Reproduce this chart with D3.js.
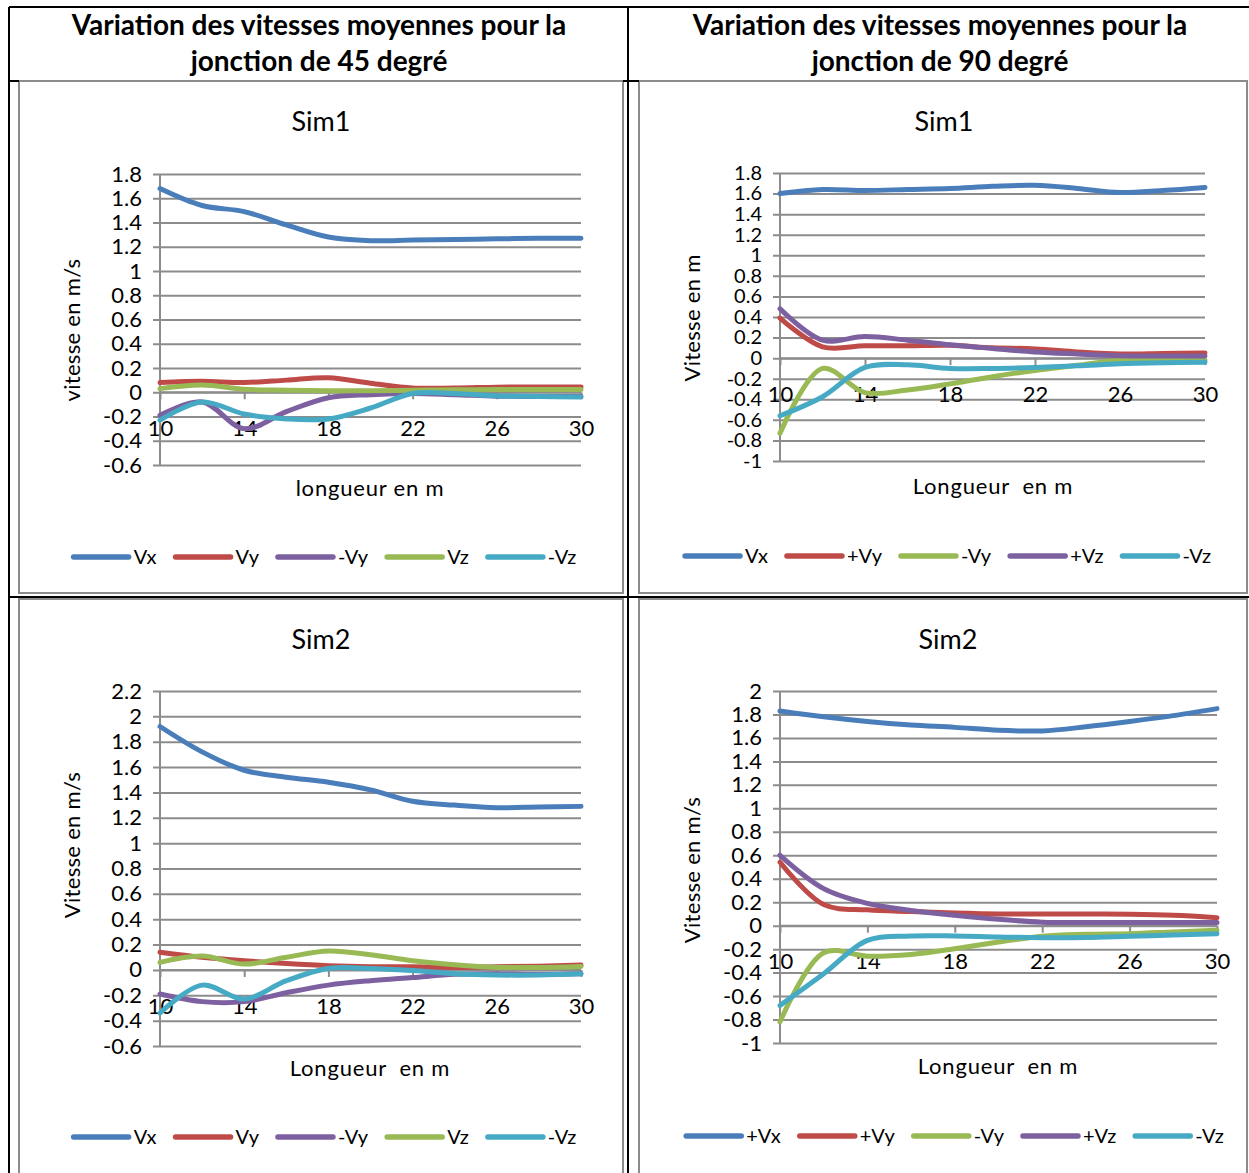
<!DOCTYPE html>
<head>
  <meta charset="utf-8">
  <script src="https://d3js.org/d3.v7.min.js"></script>
  <style>
  *{ margin:0; padding:0; }
  body{ background:#fff; font-family: Lato, 'Liberation Sans', sans-serif; }
  text{ fill:#000; }
  </style>
</head>
<body>
<svg id="viz" width="1249" height="1173"></svg>
<script>
// x categories (longueur en m) and axis labels
let xCats = [10, 12, 14, 16, 18, 20, 22, 24, 26, 28, 30];
let xTickLabels = [10, 14, 18, 22, 26, 30];

// jonction 45 degre, Sim1
let j45s1Vx  = [1.68, 1.54, 1.49, 1.38, 1.28, 1.25, 1.255, 1.26, 1.265, 1.27, 1.27];
let j45s1Vy  = [0.08, 0.09, 0.08, 0.10, 0.12, 0.075, 0.035, 0.035, 0.042, 0.044, 0.044];
let j45s1mVy = [-0.19, -0.08, -0.30, -0.16, -0.045, -0.02, -0.01, -0.02, -0.032, -0.035, -0.035];
let j45s1Vz  = [0.03, 0.06, 0.025, 0.017, 0.012, 0.012, 0.017, 0.02, 0.022, 0.022, 0.022];
let j45s1mVz = [-0.23, -0.08, -0.18, -0.22, -0.22, -0.13, -0.01, -0.01, -0.03, -0.035, -0.04];

// jonction 90 degre, Sim1
let j90s1Vx  = [1.60, 1.64, 1.63, 1.64, 1.65, 1.67, 1.68, 1.65, 1.61, 1.63, 1.66];
let j90s1pVy = [0.39, 0.11, 0.12, 0.12, 0.125, 0.10, 0.09, 0.06, 0.04, 0.045, 0.05];
let j90s1mVy = [-0.73, -0.10, -0.335, -0.31, -0.25, -0.18, -0.12, -0.07, -0.02, -0.02, -0.02];
let j90s1pVz = [0.48, 0.175, 0.21, 0.175, 0.13, 0.094, 0.06, 0.04, 0.023, 0.02, 0.02];
let j90s1mVz = [-0.56, -0.375, -0.09, -0.065, -0.10, -0.10, -0.09, -0.075, -0.055, -0.045, -0.04];

// jonction 45 degre, Sim2
let j45s2Vx  = [1.92, 1.72, 1.575, 1.52, 1.48, 1.42, 1.33, 1.30, 1.28, 1.285, 1.29];
let j45s2Vy  = [0.14, 0.10, 0.072, 0.05, 0.033, 0.025, 0.025, 0.02, 0.025, 0.03, 0.038];
let j45s2mVy = [-0.19, -0.25, -0.25, -0.18, -0.12, -0.085, -0.06, -0.035, -0.03, -0.035, -0.03];
let j45s2Vz  = [0.06, 0.11, 0.046, 0.10, 0.15, 0.12, 0.072, 0.04, 0.02, 0.02, 0.028];
let j45s2mVz = [-0.34, -0.12, -0.23, -0.085, 0.012, 0.012, -0.005, -0.03, -0.04, -0.04, -0.03];

// jonction 90 degre, Sim2
let j90s2Vx  = [1.83, 1.78, 1.74, 1.71, 1.69, 1.665, 1.66, 1.695, 1.74, 1.79, 1.85];
let j90s2pVy = [0.54, 0.18, 0.135, 0.12, 0.108, 0.10, 0.10, 0.10, 0.097, 0.088, 0.068];
let j90s2mVy = [-0.82, -0.23, -0.26, -0.245, -0.196, -0.14, -0.09, -0.074, -0.068, -0.054, -0.04];
let j90s2pVz = [0.60, 0.316, 0.19, 0.13, 0.088, 0.054, 0.03, 0.026, 0.026, 0.026, 0.026];
let j90s2mVz = [-0.68, -0.41, -0.125, -0.088, -0.088, -0.097, -0.102, -0.10, -0.09, -0.08, -0.068];

let blue = "#4a7ebb", red = "#be4b48", purple = "#7d60a0", green = "#98b954", cyan = "#46aac5";

let svg = d3.select("#viz");

//table lines
let tbl = svg.append("g").attr("stroke", "#000").attr("stroke-width", 2);
tbl.append("line").attr("x1", 9).attr("y1", 7).attr("x2", 1249).attr("y2", 7);
tbl.append("line").attr("x1", 9).attr("y1", 7).attr("x2", 9).attr("y2", 1173);

//header text
let headers = [
  {cx: 319, lines: ["Variation des vitesses moyennes pour la", "jonction de 45 degré"]},
  {cx: 940, lines: ["Variation des vitesses moyennes pour la", "jonction de 90 degré"]}
];
headers.forEach(h => {
  h.lines.forEach((l, i) => {
    svg.append("text").text(l)
      .attr("x", h.cx).attr("y", 25 + i * 36)
      .attr("dy", "0.35em")
      .attr("text-anchor", "middle")
      .style("font-weight", "bold").style("font-size", "28px");
  });
});

let panels = [
  {frame: [19, 81, 623, 593], plot: [160, 581, 174, 465], dom: [-0.6, 1.8],
   title: "Sim1", tx: 321, ty: 122, ytitle: "vitesse en m/s", yx: 72, yy: 330,
   xtitle: "longueur en m", xx: 370, xy: 488, ly: 557, lcx: 325,
   series: [["Vx", j45s1Vx, blue], ["Vy", j45s1Vy, red], ["-Vy", j45s1mVy, purple], ["Vz", j45s1Vz, green], ["-Vz", j45s1mVz, cyan]]},
  {frame: [639, 81, 1247, 593], plot: [780, 1205, 173, 461], dom: [-1, 1.8],
   title: "Sim1", tx: 944, ty: 122, ytitle: "Vitesse en m", yx: 692, yy: 318,
   xtitle: "Longueur  en m", xx: 993, xy: 486, ly: 556, lcx: 948,
   series: [["Vx", j90s1Vx, blue], ["+Vy", j90s1pVy, red], ["-Vy", j90s1mVy, green], ["+Vz", j90s1pVz, purple], ["-Vz", j90s1mVz, cyan]]},
  {frame: [19, 599, 623, 1190], plot: [160, 581, 691, 1046], dom: [-0.6, 2.2],
   title: "Sim2", tx: 321, ty: 640, ytitle: "Vitesse en m/s", yx: 72, yy: 845,
   xtitle: "Longueur  en m", xx: 370, xy: 1068, ly: 1137, lcx: 325,
   series: [["Vx", j45s2Vx, blue], ["Vy", j45s2Vy, red], ["-Vy", j45s2mVy, purple], ["Vz", j45s2Vz, green], ["-Vz", j45s2mVz, cyan]]},
  {frame: [639, 599, 1247, 1190], plot: [780, 1217, 691, 1043], dom: [-1, 2],
   title: "Sim2", tx: 948, ty: 640, ytitle: "Vitesse en m/s", yx: 692, yy: 870,
   xtitle: "Longueur  en m", xx: 998, xy: 1066, ly: 1136, lcx: 955,
   series: [["+Vx", j90s2Vx, blue], ["+Vy", j90s2pVy, red], ["-Vy", j90s2mVy, green], ["+Vz", j90s2pVz, purple], ["-Vz", j90s2mVz, cyan]]}
];

let grey = "#8c8c8c";
let fmt = d => String(Math.round(d * 10) / 10);

panels.forEach(p => {
  let g = svg.append("g");
  let [fx0, fy0, fx1, fy1] = p.frame;
  g.append("rect").attr("x", fx0).attr("y", fy0).attr("width", fx1 - fx0).attr("height", fy1 - fy0)
    .attr("fill", "#fff").attr("stroke", grey).attr("stroke-width", 2);

  let [l, r, t, b] = p.plot;
  let x = d3.scaleLinear().domain([10, 30]).range([l, r]);
  let y = d3.scaleLinear().domain(p.dom).range([b, t]);
  let yTicks = d3.range(Math.round(p.dom[0] * 5), Math.round(p.dom[1] * 5) + 1).map(k => k / 5);
  //tick font follows the gap between gridlines
  let step = Math.abs(y(0.2) - y(0));
  let tfs = step < 23 ? "20px" : "22px";

  //gridlines + y axis
  let yAxis = d3.axisLeft(y).tickValues(yTicks).tickFormat(fmt).tickSize(-(r - l) - 7).tickPadding(10);
  let ya = g.append("g").attr("transform", `translate(${l - 7},0)`).call(yAxis);
  ya.select(".domain").remove();
  ya.selectAll(".tick line").attr("x1", 0).attr("x2", r - l + 7).attr("stroke", grey).attr("stroke-width", 2);
  ya.selectAll(".tick text").attr("x", -11).style("font-size", tfs).style("font-family", "Lato, sans-serif").attr("fill", "#000");
  g.append("line").attr("x1", l).attr("x2", l).attr("y1", t).attr("y2", b).attr("stroke", grey).attr("stroke-width", 2);

  //x axis at zero
  let xAxis = d3.axisBottom(x).tickValues(xTickLabels).tickSize(7).tickPadding(22);
  let xa = g.append("g").attr("transform", `translate(0,${y(0)})`).call(xAxis);
  xa.select(".domain").attr("stroke", grey).attr("stroke-width", 2).attr("d", `M${l},0H${r}`);
  xa.selectAll(".tick line").attr("stroke", grey).attr("stroke-width", 2);
  xa.selectAll(".tick text").style("font-size", "22px").style("font-family", "Lato, sans-serif").attr("fill", "#000").attr("dy", "0.35em").attr("y", 36);

  //titles
  g.append("text").text(p.title).attr("x", p.tx).attr("y", p.ty).attr("dy", "0.35em")
    .attr("text-anchor", "middle").style("font-size", "27px");
  g.append("text").text(p.xtitle).attr("x", p.xx).attr("y", p.xy).attr("dy", "0.35em")
    .attr("text-anchor", "middle").style("font-size", "22px").style("letter-spacing", "0.8px").style("white-space", "pre");
  g.append("text").text(p.ytitle)
    .attr("transform", `translate(${p.yx},${p.yy}) rotate(-90)`).attr("dy", "0.35em")
    .attr("text-anchor", "middle").style("font-size", "22px").style("letter-spacing", "0.3px");

  //series
  let line = d3.line().x((d, i) => x(xCats[i])).y(d => y(d)).curve(d3.curveCatmullRom.alpha(0.5));
  p.series.forEach(s => {
    g.append("path").datum(s[1]).attr("d", line)
      .attr("fill", "none").attr("stroke", s[2]).attr("stroke-width", 5)
      .attr("stroke-linejoin", "round").attr("stroke-linecap", "round");
  });

  //legend
  let lg = g.append("g");
  let xpos = 0;
  p.series.forEach(s => {
    let it = lg.append("g").attr("transform", `translate(${xpos},0)`);
    it.append("line").attr("x1", 0).attr("x2", 55).attr("y1", p.ly).attr("y2", p.ly)
      .attr("stroke", s[2]).attr("stroke-width", 5.5).attr("stroke-linecap", "round");
    let tx = it.append("text").text(s[0]).attr("x", 60).attr("y", p.ly).attr("dy", "0.35em").style("font-size", "20px");
    xpos += 60 + tx.node().getComputedTextLength() + 19;
  });
  let total = xpos - 19;
  lg.attr("transform", `translate(${p.lcx - total / 2},0)`);
});

//black row lines drawn over frames
tbl = svg.append("g").attr("stroke", "#000").attr("stroke-width", 2);
tbl.append("line").attr("x1", 9).attr("y1", 81).attr("x2", 19).attr("y2", 81);
tbl.append("line").attr("x1", 623).attr("y1", 81).attr("x2", 639).attr("y2", 81);
tbl.append("line").attr("x1", 9).attr("y1", 597).attr("x2", 1249).attr("y2", 597);
tbl.append("line").attr("x1", 628).attr("y1", 7).attr("x2", 628).attr("y2", 1173);
</script>
</body>
